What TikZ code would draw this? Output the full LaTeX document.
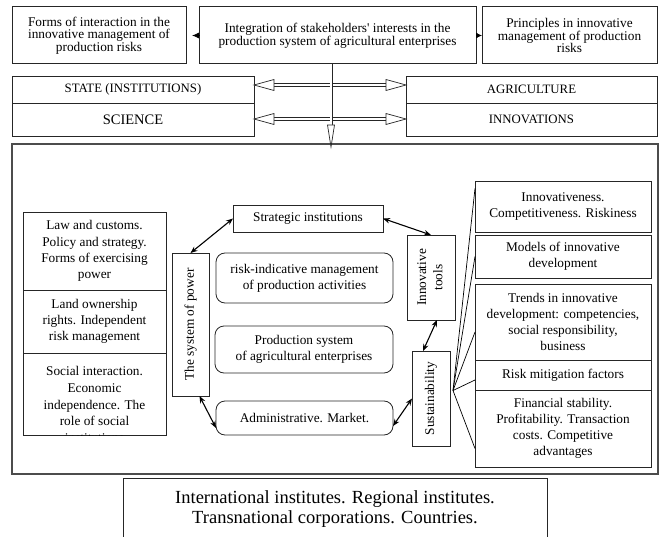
\documentclass[tikz,border=0pt]{standalone}
\usepackage{fontspec}
\setmainfont{Liberation Serif}
\usepackage{graphicx}
\usetikzlibrary{arrows.meta,calc,positioning}

\tikzset{
  box/.style={draw=black!85, line width=0.8pt, inner sep=1pt, outer sep=0pt, align=center, font=\fontsize{13.3}{16.2}\selectfont},
  topbox/.style={box, line width=1pt, font=\fontsize{13.3}{12.6}\selectfont},
  rbox/.style={box, rounded corners=9pt},
  frame/.style={draw=black!70, line width=1.4pt, outer sep=0pt},
  link/.style={line width=1.1pt, {Stealth[length=7pt,width=5.5pt]}-{Stealth[length=7pt,width=5.5pt]}},
  tip/.style={line width=0.8pt, -{Latex[length=7pt,width=6pt]}},
  fan/.style={line width=0.7pt},
  dshaft/.style={draw=black!85, line width=0.7pt, double=white, double distance=2pt},
}
% open arrow head: tip, direction, length, half width
\newcommand{\openhead}[4]{%
  \begin{scope}[shift={(#1)}, rotate=#2]
    \draw[black!85, line width=0.7pt, fill=white, line join=miter] (0,0) -- (-#3,#4) -- (-#3,-#4) -- cycle;
  \end{scope}}

\begin{document}
\begin{tikzpicture}[x=1pt, y=-1pt]
\useasboundingbox (0,0) rectangle (663,537);
\clip (0,0) rectangle (663,537);

% top row
\node[topbox, minimum width=174, minimum height=57] (forms) at (99,35.5) {Forms of interaction in the\\innovative management of\\production risks};
\node[topbox, minimum width=277, minimum height=57] (integ) at (337.5,35.5) {Integration of stakeholders\textquotesingle{} interests in the\\production system of agricultural enterprises};
\node[topbox, minimum width=175, minimum height=57] (princ) at (569.5,35.5) {Principles in innovative\\management of production\\risks};
\draw[tip, shorten >=6pt] (integ.west) -- (forms.east);
\draw[tip, -{Latex[length=6pt,width=6pt]}] (integ.east) -- (princ.west);

% second row
\node[box, minimum width=242, minimum height=27, font=\fontsize{12.8}{14}\selectfont] (state) at (133,89.5) {STATE (INSTITUTIONS)};
\node[box, minimum width=242, minimum height=33, font=\fontsize{14.5}{16}\selectfont, below=0pt of state] (science) {SCIENCE};
\node[box, minimum width=251, minimum height=27, font=\fontsize{12.8}{14}\selectfont] (agri) at (531.5,89.5) {AGRICULTURE};
\node[box, minimum width=251, minimum height=33, font=\fontsize{12.8}{14}\selectfont, below=0pt of agri] (innov) {INNOVATIONS};

% big frame
\node[frame, minimum width=646, minimum height=330] (field) at (335,309) {};

% hollow arrows
\coordinate (vtop) at ($(integ.south)+(-6.5,0)$);
\coordinate (hA) at (331,85);
\coordinate (hB) at (331,119);
\coordinate (vtip) at ($(vtop |- field.north)+(0,3)$);
\foreach \h in {hA,hB}{
  \draw[dshaft] (\h) -- ($(\h -| state.east)+(19,0)$);
  \openhead{\h -| state.east}{180}{20}{5.5}
  \draw[dshaft] (\h) -- ($(\h -| agri.west)+(-19,0)$);
  \openhead{\h -| agri.west}{0}{20}{5.5}
}
\draw[dshaft, double distance=1.6pt] (vtop) -- ($(vtip)+(0,-21)$);
\openhead{vtip}{-90}{22}{3.5}

% left column
\node[box, minimum width=143, minimum height=78] (law) at (94.5,251) {Law and customs.\\Policy and strategy.\\Forms of exercising\\power};
\node[box, minimum width=143, minimum height=63, below=0pt of law] (land) {Land ownership\\rights. Independent\\risk management};
\node[box, minimum width=143, minimum height=82, below=0pt of land] (social) {};
\begin{scope}
  \clip (social.north west) rectangle (social.south east);
  \node[anchor=north, inner sep=0pt, align=center, font=\fontsize{13.3}{16.8}\selectfont] (socialtxt) at ($(social.north)+(0,13)$) {Social interaction.\\Economic\\independence. The\\role of social\\institutions};
\end{scope}

% middle
\node[box, minimum width=37, minimum height=143] (power) at (190.5,324.5) {\rotatebox{90}{The system of power}};
\node[box, minimum width=150, minimum height=27] (strat) at (308,218.5) {Strategic institutions};
\node[rbox, minimum width=177, minimum height=50] (riskind) at (304.5,278) {risk-indicative management\\of production activities};
\node[rbox, minimum width=178, minimum height=47] (prodsys) at (304,349.5) {Production system\\of agricultural enterprises};
\node[rbox, minimum width=177, minimum height=34] (admin) at (304.5,418) {Administrative. Market.};
\node[box, minimum width=48, minimum height=85] (tools) at (431,277.5) {\rotatebox{90}{\begin{tabular}{@{}c@{}}Innovative\\tools\end{tabular}}};
\node[box, minimum width=38, minimum height=95] (sust) at (431,398.5) {\rotatebox{90}{Sustainability}};

\draw[link] (power.north) -- (strat.west);
\draw[link] (strat.east) -- (tools.north);
\draw[link] ($(tools.south)+(6,0)$) -- ($(sust.north)+(-8,0)$);
\draw[link] (sust.west) -- ($(admin.east)+(0,8)$);
\draw[link] ($(power.south)+(9,0)$) -- ($(admin.west)+(0,10)$);

% right column
\node[box, minimum width=176, minimum height=51] (r1) at (563,206.5) {Innovativeness.\\Competitiveness. Riskiness};
\node[box, minimum width=176, minimum height=43] (r2) at (563,256.5) {Models of innovative\\development};
\node[box, minimum width=176, minimum height=76] (r3) at (563,322) {Trends in innovative\\development: competencies,\\social responsibility,\\business};
\node[box, minimum width=176, minimum height=30, below=0pt of r3] (r4) {Risk mitigation factors};
\node[box, minimum width=176, minimum height=77, below=0pt of r4] (r5) {Financial stability.\\Profitability. Transaction\\costs. Competitive\\advantages};

\coordinate (hub) at ($(sust.east)+(3,-8)$);
\foreach \n/\dy in {r1/-18, r2/0, r3/10, r4/5, r5/20}
  \draw[fan] (hub) -- ($(\n.west)+(0,\dy)$);

% bottom
\node[box, anchor=north, minimum width=424, inner ysep=13pt, font=\fontsize{18.5}{20}\selectfont] (intl) at (335,478) {International institutes. Regional institutes.\\Transnational corporations. Countries.};
\end{tikzpicture}
\end{document}
